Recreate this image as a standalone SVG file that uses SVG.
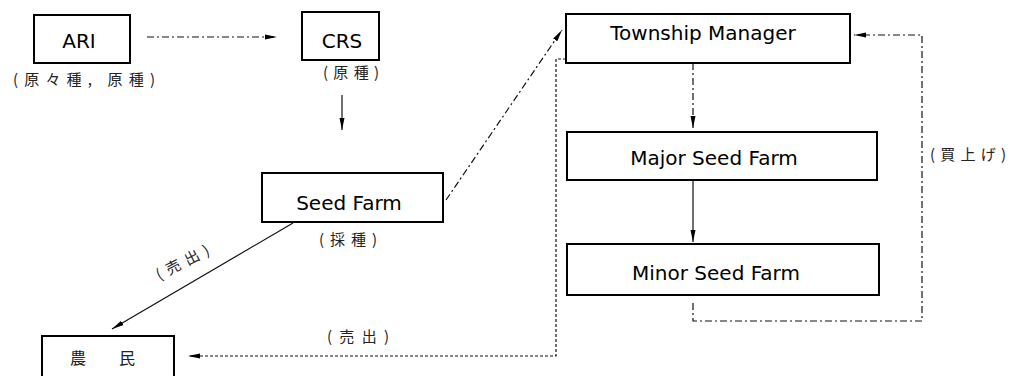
<svg xmlns="http://www.w3.org/2000/svg" width="1012" height="376" viewBox="0 0 1012 376">
<style>
.box{fill:#fff;stroke:#000;stroke-width:2}
.en{font-family:"DejaVu Sans","Liberation Sans",sans-serif;font-size:20px;fill:#000;text-anchor:middle}
.jp{font-family:"Noto Sans CJK JP",sans-serif;font-size:15px;fill:#222;text-anchor:middle}
.ln{fill:none;stroke:#111;stroke-width:1.2}
.dash{stroke-dasharray:7 3 2 3}
.dot{stroke-dasharray:3 2}
</style>
<defs>
<marker id="ah" viewBox="0 0 12 6" refX="12" refY="3" markerWidth="12" markerHeight="6" markerUnits="userSpaceOnUse" orient="auto">
<path d="M0,0.5 L12,3 L0,5.5 Z" fill="#000"/>
</marker>
</defs>
<rect width="1012" height="376" fill="#fff"/>
<g id="connectors">
<line class="ln dash" x1="147" y1="37" x2="277" y2="37" marker-end="url(#ah)"/>
<line class="ln" x1="342" y1="95" x2="342" y2="130" marker-end="url(#ah)"/>
<line class="ln dash" x1="446" y1="200" x2="562" y2="30" marker-end="url(#ah)"/>
<line class="ln dash" x1="693" y1="63" x2="693" y2="128" marker-end="url(#ah)"/>
<line class="ln" x1="693" y1="180" x2="693" y2="242" marker-end="url(#ah)"/>
<line class="ln" x1="293" y1="223" x2="112" y2="329" marker-end="url(#ah)"/>
<polyline class="ln dot" points="566,59 556,59 556,356 188,356" marker-end="url(#ah)"/>
<polyline class="ln dash" points="693,303 693,321 922,321 922,35 854,35" marker-end="url(#ah)"/>
</g>
<g id="ari">
<rect class="box" x="34" y="15" width="96" height="48"/>
<text class="en" x="79" y="48">ARI</text>
<text class="jp" x="84" y="85" textLength="142" lengthAdjust="spacing">(原々種, 原種)</text>
</g>
<g id="crs">
<rect class="box" x="302" y="12" width="77" height="48"/>
<text class="en" x="342" y="48">CRS</text>
<text class="jp" x="351" y="78" textLength="56" lengthAdjust="spacing">(原種)</text>
</g>
<g id="seedfarm">
<rect class="box" x="262" y="173" width="181" height="49"/>
<text class="en" x="349" y="210">Seed Farm</text>
<text class="jp" x="348" y="245" textLength="58" lengthAdjust="spacing">(採種)</text>
</g>
<g id="township">
<rect class="box" x="566" y="14" width="284" height="49"/>
<text class="en" x="703" y="40">Township Manager</text>
</g>
<g id="major">
<rect class="box" x="567" y="132" width="310" height="48"/>
<text class="en" x="714" y="165">Major Seed Farm</text>
</g>
<g id="minor">
<rect class="box" x="567" y="244" width="312" height="51"/>
<text class="en" x="716" y="280">Minor Seed Farm</text>
</g>
<g id="farmer">
<rect class="box" x="42" y="336" width="132" height="60"/>
<text class="jp" x="78" y="364" style="font-size:16px">農</text>
<text class="jp" x="127" y="364" style="font-size:16px">民</text>
</g>
<g id="labels">
<text class="jp" x="0" y="0" transform="translate(185,267) rotate(-27)" textLength="58" lengthAdjust="spacing">(売出)</text>
<text class="jp" x="358" y="342" textLength="62" lengthAdjust="spacing">(売出)</text>
<text class="jp" x="968" y="160" textLength="76" lengthAdjust="spacing">(買上げ)</text>
</g>
</svg>
